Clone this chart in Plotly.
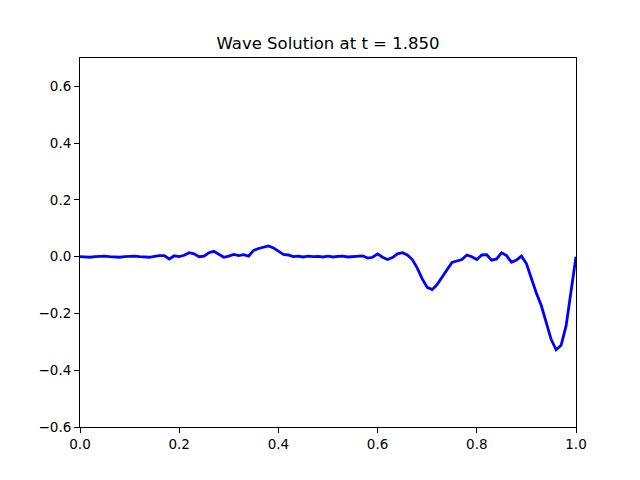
import plotly.graph_objects as go

# ===================== data =====================
T_VALUE = 1.850
x_vals = [i / 100 for i in range(101)]
u_vals = [
    0.000, -0.002, -0.002, 0.000, 0.002, 0.002, 0.000, -0.002, -0.002, 0.000,
    0.002, 0.002, 0.000, -0.002, -0.002, 0.001, 0.004, 0.004, -0.008, 0.003,
    0.000, 0.005, 0.014, 0.010, 0.000, 0.002, 0.014, 0.019, 0.008, -0.002,
    0.002, 0.008, 0.004, 0.007, 0.002, 0.022, 0.029, 0.033, 0.038, 0.031,
    0.020, 0.008, 0.006, 0.000, 0.002, -0.001, 0.002, 0.000, 0.001, -0.001,
    0.002, -0.001, 0.001, 0.002, -0.001, 0.001, 0.001, 0.003, -0.005, -0.002,
    0.010, -0.002, -0.010, -0.003, 0.010, 0.014, 0.006, -0.010, -0.040, -0.078,
    -0.108, -0.116, -0.098, -0.074, -0.046, -0.020, -0.014, -0.010, 0.006, 0.000,
    -0.010, 0.006, 0.007, -0.012, -0.008, 0.014, 0.004, -0.020, -0.012, 0.002,
    -0.024, -0.080, -0.128, -0.172, -0.232, -0.292, -0.328, -0.312, -0.244, -0.130,
    0.000,
]
x_ticks = [0.0, 0.2, 0.4, 0.6, 0.8, 1.0]
y_ticks = [-0.6, -0.4, -0.2, 0.0, 0.2, 0.4, 0.6]

fig = go.Figure()
fig.add_trace(
    go.Scatter(x=x_vals, y=u_vals, mode="lines",
               line=dict(color="blue", width=2.8), showlegend=False)
)

axis_style = dict(
    showgrid=False, zeroline=False, showline=True, linecolor="black",
    linewidth=1, mirror=True, ticks="outside", ticklen=5, tickwidth=1,
    tickcolor="black", tickfont=dict(family="DejaVu Sans", size=13.5, color="black"),
)

# the page body adds an 8px margin, so shift the plot up/left by that much
fig.update_layout(
    title=dict(text=f"Wave Solution at t = {T_VALUE:.3f}", x=0.5, y=0.927,
               xanchor="center", yanchor="middle",
               font=dict(family="DejaVu Sans", size=16.5, color="black")),
    width=640, height=480,
    margin=dict(l=72, r=72, t=50, b=61),
    plot_bgcolor="white", paper_bgcolor="white",
    xaxis=dict(range=[0, 1], tickvals=x_ticks, tickformat=".1f", **axis_style),
    yaxis=dict(range=[-0.6, 0.7], tickvals=y_ticks, tickformat=".1f", **axis_style),
)

fig.write_html("out.html")
